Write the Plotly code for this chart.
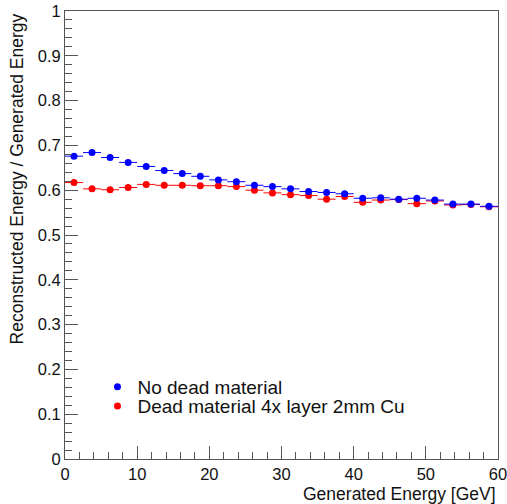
import plotly.graph_objects as go

# Bin centres of generated energy [GeV]
energy = [1.25, 3.75, 6.25, 8.75, 11.25, 13.75, 16.25, 18.75, 21.25, 23.75,
          26.25, 28.75, 31.25, 33.75, 36.25, 38.75, 41.25, 43.75, 46.25, 48.75,
          51.25, 53.75, 56.25, 58.75]
bin_half_width = [1.25] * len(energy)

# Reconstructed / generated energy
no_dead = [0.676, 0.684, 0.673, 0.662, 0.653, 0.644, 0.637, 0.631, 0.623, 0.619,
           0.611, 0.608, 0.603, 0.597, 0.595, 0.592, 0.582, 0.583, 0.580, 0.582,
           0.578, 0.569, 0.569, 0.564]
dead_cu = [0.617, 0.603, 0.601, 0.606, 0.613, 0.611, 0.611, 0.610, 0.610, 0.608,
           0.600, 0.594, 0.590, 0.588, 0.580, 0.586, 0.573, 0.578, 0.579, 0.570,
           0.576, 0.567, 0.568, 0.563]

name_no_dead = "No dead material"
name_dead = "Dead material 4x layer 2mm Cu"

FONT = "Liberation Sans, Arial, Helvetica, sans-serif"

fig = go.Figure()
fig.add_trace(go.Scatter(
    x=energy, y=dead_cu, mode="markers", name=name_dead, legend="legend2",
    marker=dict(color="#ff0000", size=7),
    error_x=dict(type="data", array=bin_half_width, color="#ff0000", thickness=1, width=0),
))
fig.add_trace(go.Scatter(
    x=energy, y=no_dead, mode="markers", name=name_no_dead, legend="legend",
    marker=dict(color="#0000ff", size=7),
    error_x=dict(type="data", array=bin_half_width, color="#0000ff", thickness=1, width=0),
))

axis_common = dict(
    showgrid=False, zeroline=False, showline=True, mirror=True, automargin=False,
    ticklabeloverflow="allow",
    linecolor="#555555", linewidth=1,
    ticks="inside", ticklen=13, tickcolor="#555555", tickwidth=1,
    tickfont=dict(family=FONT, size=16.5, color="#111111"),
)

fig.update_xaxes(range=[0, 60], dtick=10, tick0=0,
                 minor=dict(ticks="inside", ticklen=7, dtick=2, tickcolor="#555555", showgrid=False),
                 **axis_common)
fig.update_yaxes(range=[0, 1], dtick=0.1, tick0=0,
                 minor=dict(ticks="inside", ticklen=7, dtick=0.02, tickcolor="#555555", showgrid=False),
                 **axis_common)

fig.add_annotation(text="Generated Energy [GeV]", xref="paper", yref="paper",
                   x=1, y=-0.078, xanchor="right", yanchor="middle", showarrow=False,
                   font=dict(family=FONT, size=17.5, color="#111111"))
fig.add_annotation(text="Reconstructed Energy / Generated Energy", xref="paper", yref="paper",
                   x=-0.111, y=1, xanchor="center", yanchor="top", textangle=-90, showarrow=False,
                   font=dict(family=FONT, size=17.5, color="#111111"))

legend_common = dict(xanchor="left", yanchor="middle", bgcolor="rgba(0,0,0,0)",
                     font=dict(family=FONT, size=19, color="#111111"), itemsizing="trace")

fig.update_layout(
    width=507, height=504,
    margin=dict(l=65, r=9, t=11, b=45, autoexpand=False),
    paper_bgcolor="white", plot_bgcolor="white",
    showlegend=True,
    legend=dict(x=0.075, y=0.161, **legend_common),
    legend2=dict(x=0.075, y=0.118, **legend_common),
)

fig.write_html("out.html", config={"displayModeBar": False},
               post_script="document.body.style.margin='0';")
